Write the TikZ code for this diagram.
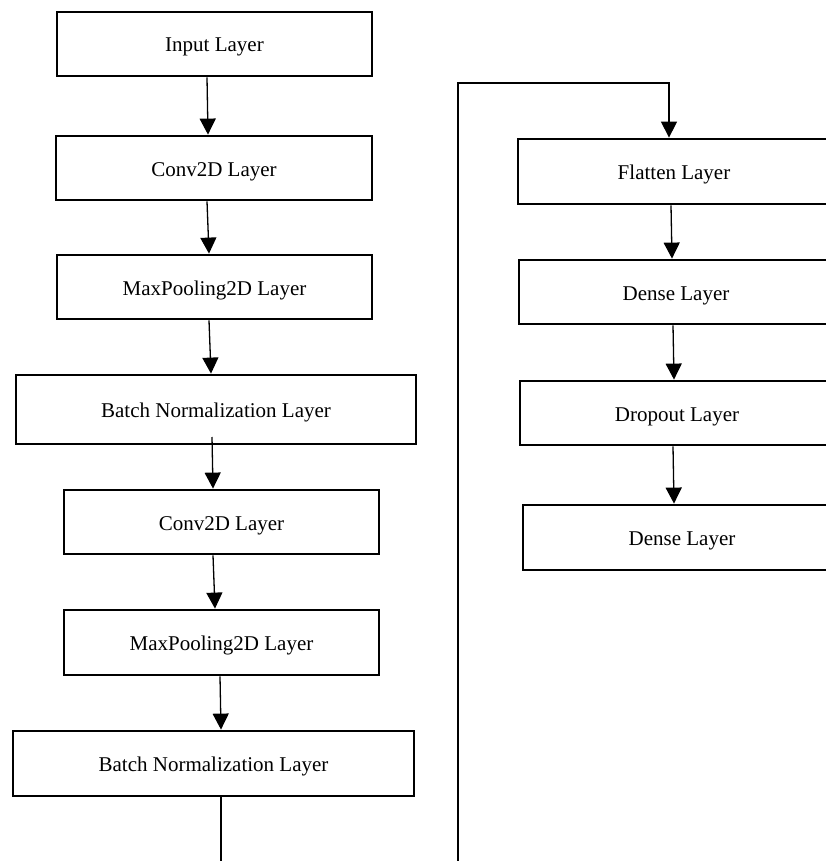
\documentclass[tikz,border=0pt]{standalone}
\usepackage{fontspec}
\setmainfont{Liberation Serif}
\usetikzlibrary{arrows.meta}
\begin{document}
\begin{tikzpicture}[x=1pt,y=-1pt,
  layer/.style={draw=black,line width=2.8pt,fill=white,rectangle,inner sep=0pt,
    text height=16pt,text depth=0pt,
    minimum height=64pt,font=\fontsize{21}{25}\selectfont},
  arr/.style={line width=1.3pt,-{Triangle[width=16pt,length=16pt]}},
  conn/.style={line width=1.3pt}]
\useasboundingbox (0,0) rectangle (826,861);
\clip (0,0) rectangle (826,861);
% left column
\node[layer,minimum width=315pt] (in) at (214.5,44) {Input Layer};
\node[layer,minimum width=316pt] (c1) at (214,168) {Conv2D Layer};
\node[layer,minimum width=315pt] (m1) at (214.5,287) {MaxPooling2D Layer};
\node[layer,minimum width=400pt,minimum height=69pt] (b1) at (216,409.5) {Batch Normalization Layer};
\node[layer,minimum width=315pt] (c2) at (221.5,522) {Conv2D Layer};
\node[layer,minimum width=315pt,minimum height=65pt] (m2) at (221.5,642.5) {MaxPooling2D Layer};
\node[layer,minimum width=401pt,minimum height=65pt] (b2) at (213.5,763.5) {Batch Normalization Layer};
% right column
\node[layer,minimum width=312pt,minimum height=65pt] (fl) at (674,171.5) {Flatten Layer};
\node[layer,minimum width=314pt] (d1) at (676,292) {Dense Layer};
\node[layer,minimum width=314pt] (dr) at (677,413) {Dropout Layer};
\node[layer,minimum width=318pt,minimum height=65pt] (d2) at (682,537.5) {Dense Layer};
% connectors
\draw[arr] (in.south -| 207,0) -- (c1.north -| 208,0);
\draw[arr] (c1.south -| 207,0) -- (m1.north -| 209,0);
\draw[arr] (m1.south -| 209,0) -- (b1.north -| 211,0);
\draw[arr] (212,437) -- (c2.north -| 213,0);
\draw[arr] (c2.south -| 213,0) -- (m2.north -| 215,0);
\draw[arr] (m2.south -| 220,0) -- (b2.north -| 221,0);
\coordinate (lb) at (221,862);
\coordinate (rb) at (458,862);
\coordinate (rt) at (458,83);
\coordinate (ft) at (669,83);
\draw[conn] (b2.south -| 221,0) -- (lb);
\draw[arr] (rb) -- (rt) -- (ft) -- (fl.north -| 669,0);
\draw[arr] (fl.south -| 671,0) -- (d1.north -| 672,0);
\draw[arr] (d1.south -| 673,0) -- (dr.north -| 674,0);
\draw[arr] (dr.south -| 673,0) -- (d2.north -| 674,0);
\end{tikzpicture}
\end{document}
